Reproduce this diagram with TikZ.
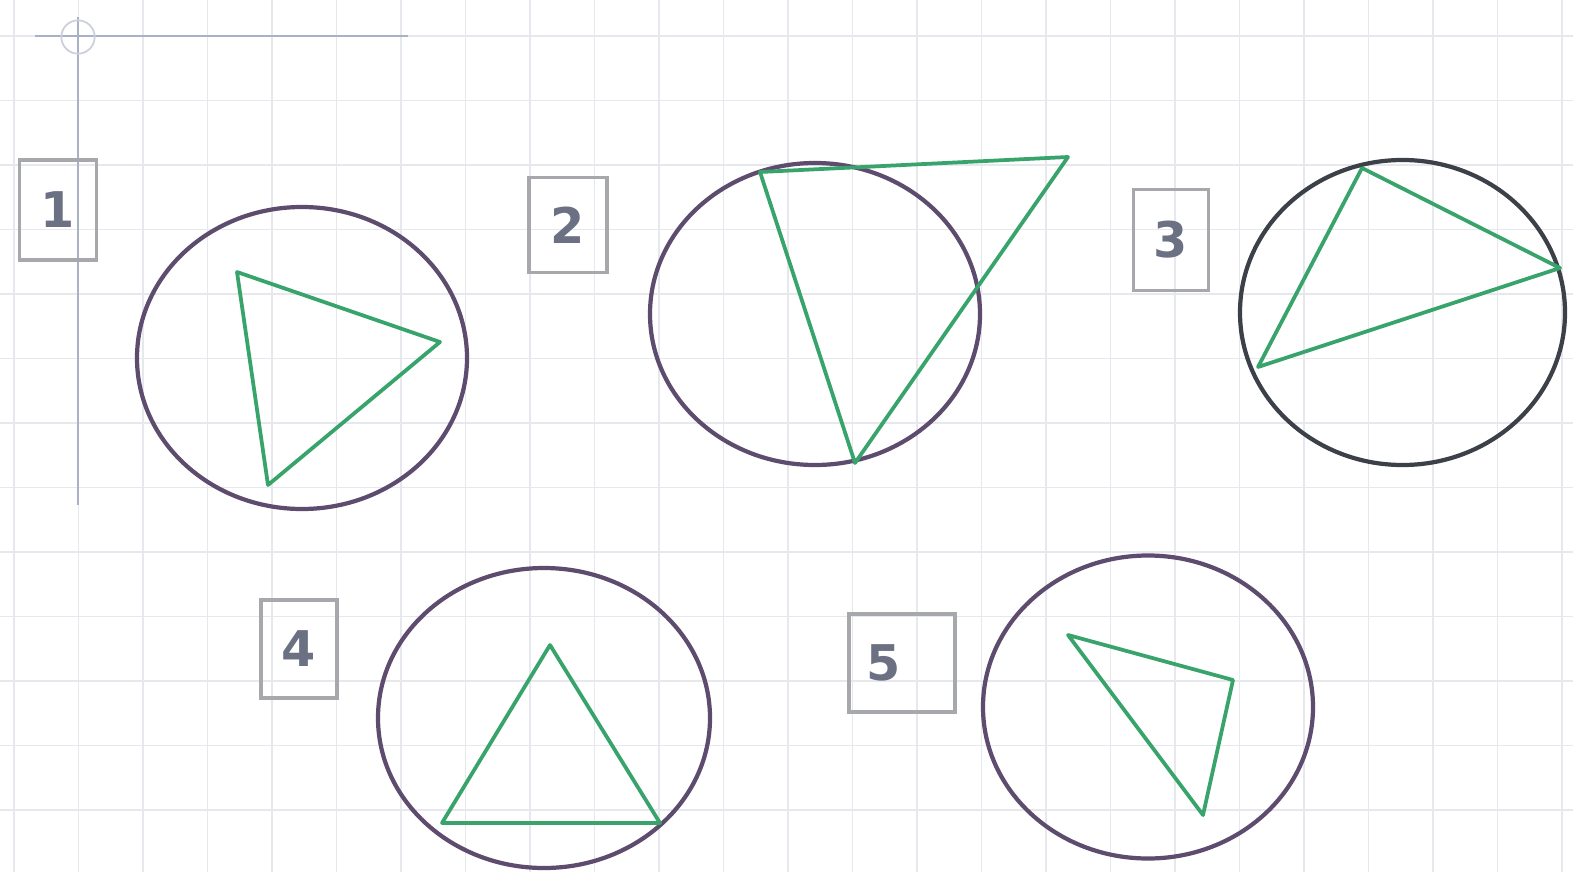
\documentclass[tikz,border=0pt]{standalone}
\usepackage{fontspec}
\newfontfamily\lblfont{DejaVu Sans}
\definecolor{gridc}{HTML}{E6E8EE}
\definecolor{axisc}{HTML}{AAB0C6}
\definecolor{ringc}{HTML}{5E4C6E}
\definecolor{ringd}{HTML}{3C4048}
\definecolor{tric}{HTML}{38A46C}
\definecolor{boxc}{HTML}{A6A8AC}
\definecolor{digc}{HTML}{6B7182}
\tikzset{
  ring/.style={draw=ringc, line width=3.6pt},
  tri/.style={draw=tric, line width=3.2pt, line join=round},
  lbl/.style={draw=boxc, line width=2.6pt, text=digc, font=\lblfont\bfseries\fontsize{42}{46}\selectfont, inner sep=0pt, minimum width=2.3cm, minimum height=3cm},
}
\begin{document}
\begin{tikzpicture}[x=0.03cm,y=-0.03cm]
\useasboundingbox (0,0) rectangle (1573,872);
\fill[white] (0,0) rectangle (1573,872);
% grid
\foreach \i in {0,...,24} {\draw[gridc, line width=1.5pt] ({14+64.5*\i},0) -- ({14+64.5*\i},872);}
\foreach \j in {0,...,13} {\draw[gridc, line width=1.5pt] (0,{36+64.5*\j}) -- (1573,{36+64.5*\j});}
% axes
\coordinate (o) at (78,37);
\draw[axisc, line width=2.2pt] (35,36) -- (408,36);
\draw[axisc, line width=2.2pt] (78,17) -- (78,505);
\draw[axisc!60, line width=1.5pt] (o) circle [radius=0.5cm];
% labels
\node[lbl, minimum width=2.31cm, minimum height=3cm] (l1) at (58,210) {1};
\node[lbl, minimum width=2.34cm, minimum height=2.85cm] (l2) at (568,225) {2};
\node[lbl, minimum width=2.25cm, minimum height=3.03cm] (l3) at (1171,240) {3};
\node[lbl, minimum width=2.28cm, minimum height=2.94cm] (l4) at (299,649) {4};
\node[lbl, minimum width=3.18cm, minimum height=2.94cm] (l5) at (902,663) {5\kern1.1cm};
% circle 1
\draw[ring] (302,358) ellipse [x radius=4.95cm, y radius=4.53cm];
\coordinate (a1) at (237,272); \coordinate (b1) at (440,342); \coordinate (c1) at (268,485);
\draw[tri] (a1) -- (b1) -- (c1) -- cycle;
% circle 2
\draw[ring] (815,314) ellipse [x radius=4.95cm, y radius=4.53cm];
\coordinate (a2) at (760,172); \coordinate (b2) at (1068,157); \coordinate (c2) at (855,463);
\draw[tri] (a2) -- (b2) -- (c2) -- cycle;
% circle 3
\draw[ring, draw=ringd] (1402.5,312.5) ellipse [x radius=4.875cm, y radius=4.575cm];
\coordinate (a3) at (1362,168); \coordinate (b3) at (1560,268); \coordinate (c3) at (1258,367);
\draw[tri] (a3) -- (b3) -- (c3) -- cycle;
% circle 4
\draw[ring] (544,718) ellipse [x radius=4.98cm, y radius=4.5cm];
\coordinate (a4) at (550,645); \coordinate (b4) at (660,823); \coordinate (c4) at (442,823);
\draw[tri] (a4) -- (b4) -- (c4) -- cycle;
% circle 5
\draw[ring] (1148,707) ellipse [x radius=4.95cm, y radius=4.545cm];
\coordinate (a5) at (1068,635); \coordinate (b5) at (1233,680); \coordinate (c5) at (1203,815);
\draw[tri] (a5) -- (b5) -- (c5) -- cycle;
\end{tikzpicture}
\end{document}
